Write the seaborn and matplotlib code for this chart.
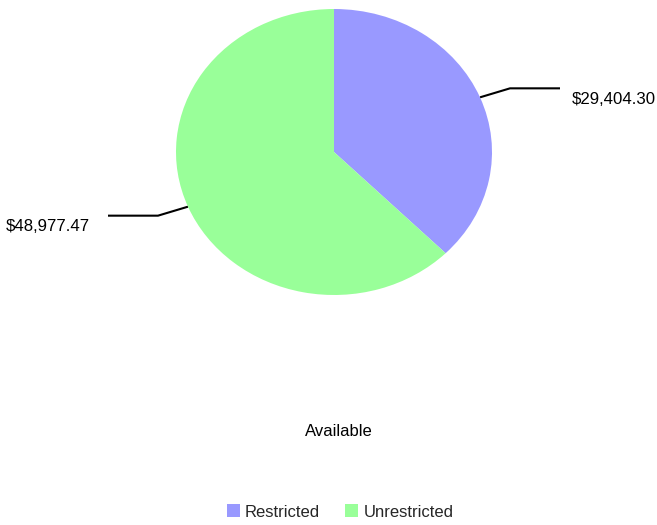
import numpy as np
import matplotlib
matplotlib.use("Agg")
import matplotlib.pyplot as plt
from matplotlib.patches import Patch
import seaborn as sns

# data
categories = ["Restricted", "Unrestricted"]
amounts = [29404.30, 48977.47]
colors = ["#9999FF", "#99FF99"]
title = "Available"

sns.set_theme(style="white")
plt.rcParams['font.family'] = ['Liberation Sans', 'DejaVu Sans']

W, H = 657, 525
fig = plt.figure(figsize=(W / 100, H / 100), dpi=100)

# overlay in pixel coords (y down)
over = fig.add_axes([0, 0, 1, 1])
over.set_xlim(0, W)
over.set_ylim(H, 0)
over.axis("off")

# pie axes: slightly wider than tall -> elliptical pie
px0, py0, pw, ph = 176, 9, 316, 286
pie_ax = fig.add_axes([px0 / W, (H - py0 - ph) / H, pw / W, ph / H])
wedges, _ = pie_ax.pie(amounts, colors=colors, startangle=90, counterclock=False,
                       radius=1, wedgeprops=dict(linewidth=0))
pie_ax.set_xlim(-1, 1)
pie_ax.set_ylim(-1, 1)
pie_ax.set_aspect("auto")
pie_ax.axis("off")

# leader lines + value labels
for w, val in zip(wedges, amounts):
    mid = np.deg2rad((w.theta1 + w.theta2) / 2)
    dx, dy = pie_ax.transData.transform((np.cos(mid), np.sin(mid)))
    x0, y0 = dx, H - dy
    side = 1 if np.cos(mid) >= 0 else -1
    x1, y1 = x0 + side * 30, y0 + (-9 if side > 0 else 9)
    x2 = x1 + side * 50
    over.plot([x0, x1, x2], [y0, y1, y1], color="black", lw=1.5,
              solid_capstyle="butt")
    gap = 12 if side > 0 else 18
    over.text(x2 + side * gap, y1 + 11, f"${val:,.2f}", fontsize=12.1,
              color="black", ha="left" if side > 0 else "right", va="center")

over.text(339, 432, title, fontsize=12, color="black", ha="center", va="center")

handles = [Patch(facecolor=c, edgecolor="none") for c in colors]
fig.legend(handles, categories, loc="center", bbox_to_anchor=(340 / W, 1 - 512 / H),
           ncol=2, frameon=False, fontsize=12, handlelength=0.8, handleheight=0.8,
           handletextpad=0.3, columnspacing=1.5)

fig.savefig("out.png", dpi=100)
